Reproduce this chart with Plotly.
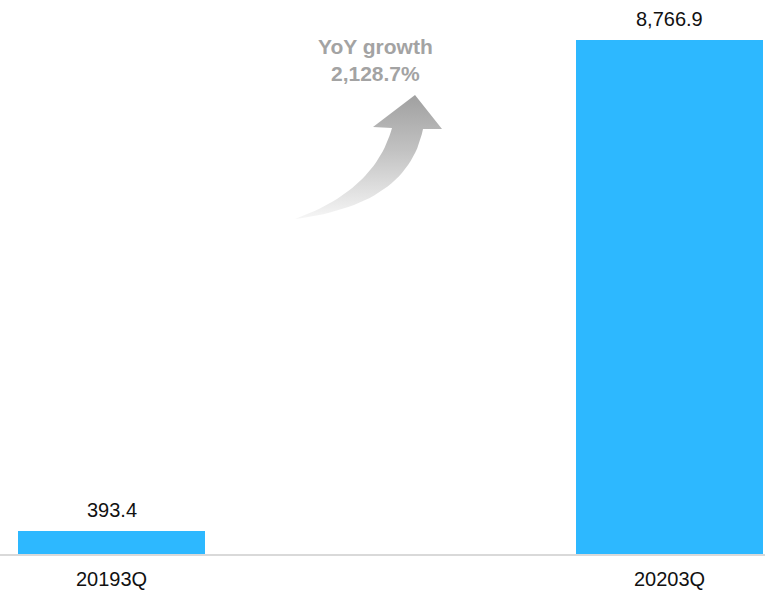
import plotly.graph_objects as go

# Quarterly values
categories = ["20193Q", "20203Q"]
values = [393.4, 8766.9]
value_labels = ["393.4", "8,766.9"]
growth_text = "YoY growth<br>2,128.7%"

BAR_COLOR = "#2DB8FF"
W, H = 765, 593
MARGIN_B = 39
PLOT_H = H - MARGIN_B

fig = go.Figure()

fig.add_trace(go.Bar(
    x=[0, 1], y=values,
    width=0.335,
    marker=dict(color=BAR_COLOR, line=dict(width=0)),
    hoverinfo="skip",
    showlegend=False,
))

# Value labels above bars
for i, (v, lab) in enumerate(zip(values, value_labels)):
    fig.add_annotation(
        x=i, y=v, text=lab, showarrow=False,
        xref="x", yref="y", yanchor="bottom", yshift=8,
        font=dict(family="Liberation Sans, Arial", size=20, color="#111111"),
    )

# Curved growth arrow drawn on an overlay axis in pixel units
def qbez(p0, c, p1, n=30):
    pts = []
    for k in range(n + 1):
        t = k / n
        x = (1 - t) ** 2 * p0[0] + 2 * (1 - t) * t * c[0] + t ** 2 * p1[0]
        y = (1 - t) ** 2 * p0[1] + 2 * (1 - t) * t * c[1] + t ** 2 * p1[1]
        pts.append((x, y))
    return pts

tail = (295, 219)
left_edge = qbez(tail, (375, 190), (392, 128))
right_edge = qbez((423, 129), (408, 205), tail)
head = [(392, 128), (373, 127), (415, 95), (442, 129), (423, 129)]
outline = left_edge + head[1:4] + right_edge
ax_x = [p[0] for p in outline]
ax_y = [p[1] for p in outline]

fig.add_trace(go.Scatter(
    x=ax_x, y=ax_y, xaxis="x2", yaxis="y2",
    mode="lines", line=dict(width=0, color="rgba(0,0,0,0)"),
    fill="toself",
    fillgradient=dict(
        type="vertical",
        colorscale=[[0, "#a0a0a0"], [0.45, "#c2c2c2"], [1, "#f6f6f6"]],
        start=95, stop=219,
    ),
    hoverinfo="skip", showlegend=False,
))

fig.add_annotation(
    x=375, y=60, xref="x2", yref="y2", text=growth_text,
    showarrow=False, align="center",
    font=dict(family="Liberation Sans, Arial", size=21, color="#a3a3a3", weight="bold"),
)

fig.update_layout(
    width=W, height=H,
    margin=dict(l=0, r=0, t=0, b=MARGIN_B),
    paper_bgcolor="white", plot_bgcolor="white",
    bargap=0,
    xaxis=dict(
        range=[-111.5 / 558, (W - 111.5) / 558],
        tickvals=[0, 1], ticktext=categories,
        showgrid=False, zeroline=False,
        showline=True, linecolor="#d9d9d9", linewidth=2,
        ticks="", ticklabelstandoff=6,
        tickfont=dict(family="Liberation Sans, Arial", size=20, color="#111111"),
        fixedrange=True,
    ),
    yaxis=dict(
        range=[0, PLOT_H / 514 * 8766.9],
        visible=False, showgrid=False, zeroline=False, fixedrange=True,
    ),
    xaxis2=dict(range=[0, W], overlaying="x", visible=False, fixedrange=True),
    yaxis2=dict(range=[PLOT_H, 0], overlaying="y", visible=False, fixedrange=True),
)

fig.write_html("out.html")
